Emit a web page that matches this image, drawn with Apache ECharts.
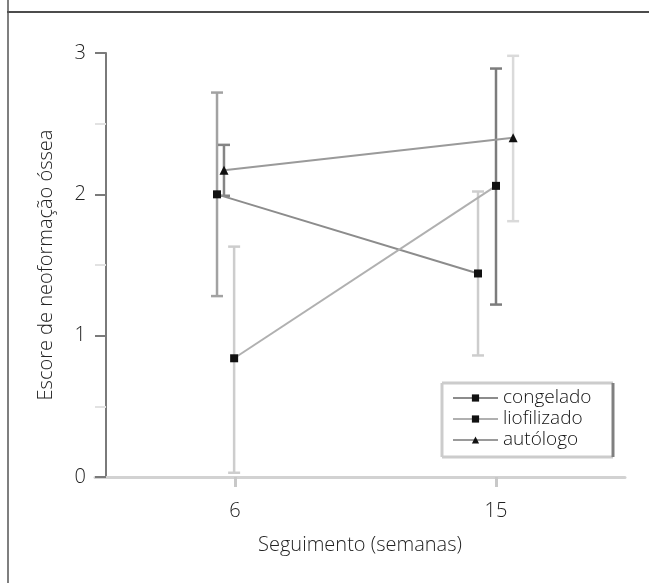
<!DOCTYPE html>
<html>
<head>
<meta charset="utf-8">
<script src="https://cdn.jsdelivr.net/npm/echarts@6/dist/echarts.min.js"></script>
<style>html,body{margin:0;padding:0;background:#fff}#c{width:649px;height:583px}</style>
</head>
<body>
<div id="c"></div>
<script>
// ---- data ----
var weeks = [6, 15];
var seriesNames = ['congelado', 'liofilizado', 'autólogo'];
var congeladoMean = [2.00, 1.44];
var congeladoLow  = [1.28, 0.86];
var congeladoHigh = [2.72, 2.02];
var liofilizadoMean = [0.84, 2.06];
var liofilizadoLow  = [0.03, 1.22];
var liofilizadoHigh = [1.63, 2.89];
var autologoMean = [2.17, 2.40];
var autologoLow  = [1.99, 1.81];
var autologoHigh = [2.35, 2.98];
var yTicks = [0, 1, 2, 3];
var xTickLabels = ['6', '15'];

// ---- style (dodge offsets in weeks, colours) ----
var dodge = [[-0.62, -0.62], [-0.03, 0.0], [-0.38, 0.59]];
var lineColors = ['#8c8c8c', '#b0b0b0', '#9a9a9a'];
var barColors = [['#a2a2a2', '#cdcdcd'], ['#cdcdcd', '#7c7c7c'], ['#858585', '#dadada']];
var symbols = ['rect', 'rect', 'triangle'];

var means = [congeladoMean, liofilizadoMean, autologoMean];
var lows = [congeladoLow, liofilizadoLow, autologoLow];
var highs = [congeladoHigh, liofilizadoHigh, autologoHigh];

var font = "'Open Sans', 'Noto Sans', sans-serif";
var series = [];
// error bars
seriesNames.forEach(function (name, s) {
  var d = weeks.map(function (w, i) { return [w + dodge[s][i], lows[s][i], highs[s][i], i]; });
  series.push({
    type: 'custom', name: name + '_err', silent: true, z: 1,
    data: d,
    encode: { x: 0, y: [1, 2] },
    renderItem: function (params, api) {
      var x = api.value(0), lo = api.value(1), hi = api.value(2), idx = api.value(3);
      var p1 = api.coord([x, hi]), p2 = api.coord([x, lo]);
      var col = barColors[s][idx];
      var cw = 6;
      var st = { stroke: col, lineWidth: 2.5 };
      return { type: 'group', children: [
        { type: 'line', shape: { x1: p1[0], y1: p1[1], x2: p2[0], y2: p2[1] }, style: st },
        { type: 'line', shape: { x1: p1[0] - cw, y1: p1[1], x2: p1[0] + cw, y2: p1[1] }, style: st },
        { type: 'line', shape: { x1: p2[0] - cw, y1: p2[1], x2: p2[0] + cw, y2: p2[1] }, style: st }
      ]};
    }
  });
});
// lines with markers
seriesNames.forEach(function (name, s) {
  series.push({
    type: 'line', name: name, z: 3,
    data: weeks.map(function (w, i) { return [w + dodge[s][i], means[s][i]]; }),
    symbol: symbols[s], symbolSize: s === 2 ? 9 : 8,
    itemStyle: { color: '#111' },
    lineStyle: { color: lineColors[s], width: 2 },
    emphasis: { disabled: true }
  });
});

var chart = echarts.init(document.getElementById('c'), null, { renderer: 'canvas' });
chart.setOption({
  animation: false,
  backgroundColor: '#fff',
  textStyle: { fontFamily: font },
  grid: { left: 95, right: 24, top: 53, bottom: 106, containLabel: false },
  xAxis: {
    type: 'value', min: 6 - 140 / 29, max: 15 + 129 / 29,
    name: 'Seguimento (semanas)', nameLocation: 'middle', nameGap: 58,
    nameTextStyle: { fontSize: 20, color: '#222', fontFamily: font, fontWeight: 300 },
    axisLine: { show: true, lineStyle: { color: '#d2d2d2', width: 3 } },
    axisTick: { show: true, customValues: weeks, length: 10, lineStyle: { color: '#c8c8c8', width: 3 } },
    axisLabel: { customValues: weeks, fontSize: 20, color: '#222', margin: 24, fontFamily: font, fontWeight: 300,
      formatter: function (v) { return xTickLabels[weeks.indexOf(v)]; } },
    splitLine: { show: false }
  },
  yAxis: {
    type: 'value', min: 0, max: 3, interval: 1, offset: -11,
    name: 'Escore de neoformação óssea', nameLocation: 'middle', nameGap: 50,
    nameTextStyle: { fontSize: 20, color: '#222', fontFamily: font, fontWeight: 300 },
    axisLine: { show: true, lineStyle: { color: '#7a7a7a', width: 2 } },
    axisTick: { show: true, length: 11, lineStyle: { color: '#7a7a7a', width: 2 } },
    minorTick: { show: true, splitNumber: 2, length: 11, lineStyle: { color: '#e2e2e2', width: 2 } },
    axisLabel: { fontSize: 20, color: '#222', margin: 20, fontFamily: font, fontWeight: 300,
      formatter: function (v) { return yTicks.indexOf(v) >= 0 ? String(v) : ''; } },
    splitLine: { show: false }
  },
  legend: {
    data: seriesNames, orient: 'vertical', left: 452, top: 388,
    itemWidth: 45, itemHeight: 9, itemGap: 1, padding: 0,
    textStyle: { fontSize: 19, lineHeight: 20, color: '#111', fontFamily: font, fontWeight: 300 },
    selectedMode: false
  },
  graphic: [
    { type: 'line', shape: { x1: 7, y1: 12, x2: 649, y2: 12 }, style: { stroke: '#111', lineWidth: 1.5 }, z: 10 },
    { type: 'line', shape: { x1: 8, y1: 0, x2: 8, y2: 583 }, style: { stroke: '#555', lineWidth: 1.5 }, z: 10 },
    { type: 'rect', shape: { x: 442, y: 383, width: 171, height: 74 }, style: { fill: '#fff', stroke: null }, z: 0 },
    { type: 'line', shape: { x1: 442, y1: 383, x2: 613, y2: 383 }, style: { stroke: '#cccccc', lineWidth: 3 }, z: 5 },
    { type: 'line', shape: { x1: 442, y1: 383, x2: 442, y2: 457 }, style: { stroke: '#cccccc', lineWidth: 3 }, z: 5 },
    { type: 'line', shape: { x1: 442, y1: 457, x2: 613, y2: 457 }, style: { stroke: '#cccccc', lineWidth: 3 }, z: 5 },
    { type: 'line', shape: { x1: 613, y1: 383, x2: 613, y2: 457 }, style: { stroke: '#808080', lineWidth: 3 }, z: 5 }
  ],
  series: series
});
</script>
</body>
</html>
